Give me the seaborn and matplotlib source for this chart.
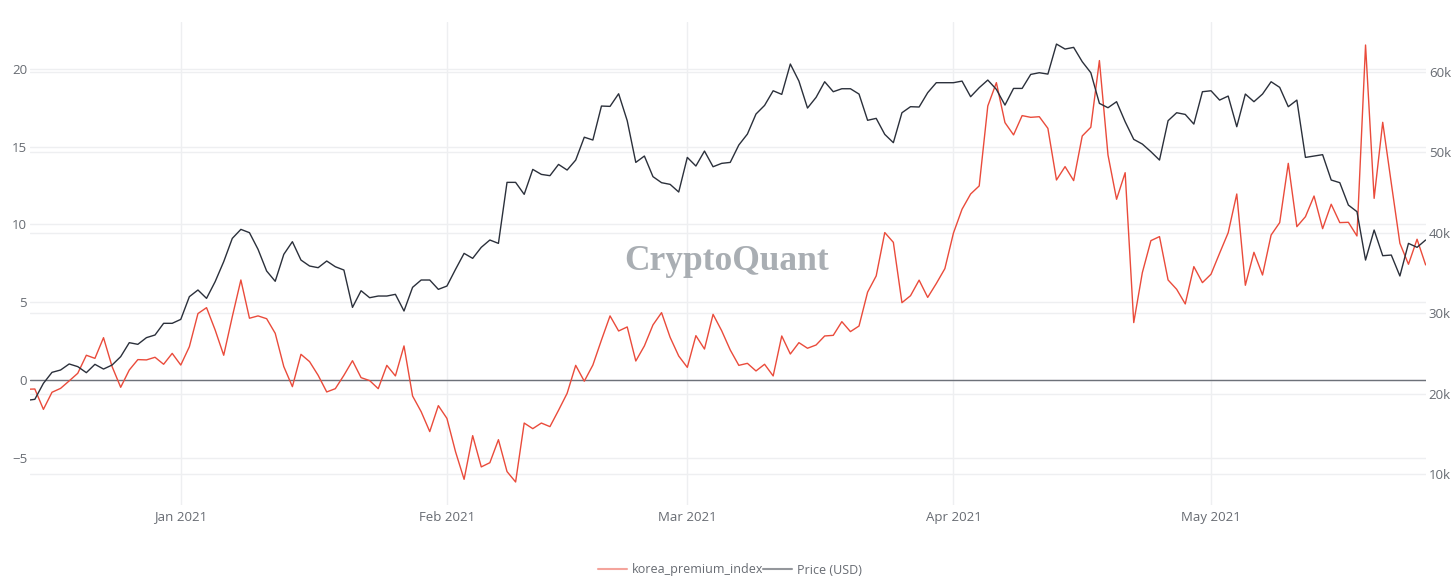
import numpy as np
import pandas as pd
import matplotlib
matplotlib.use("Agg")
import matplotlib.pyplot as plt
import matplotlib.dates as mdates
from matplotlib.ticker import FuncFormatter
from matplotlib.lines import Line2D
import seaborn as sns

start_date = "2020-12-14"

korea_premium_index = [
    # Dec 14 - Dec 31
    -0.6, -0.58, -1.89, -0.79, -0.54, -0.06, 0.43, 1.59, 1.39, 2.72, 0.86, -0.47, 0.64, 1.31, 1.29, 1.46, 1.01, 1.71,
    # Jan
    0.96, 2.14, 4.27, 4.65, 3.22, 1.59, 4.07, 6.43, 3.97, 4.12, 3.94, 3.0, 0.86, -0.43, 1.65, 1.18, 0.30, -0.77,
    -0.56, 0.30, 1.24, 0.15, -0.04, -0.56, 0.94, 0.26, 2.19, -1.03, -2.04, -3.32, -1.65,
    # Feb
    -2.47, -4.61, -6.39, -3.58, -5.59, -5.32, -3.84, -5.89, -6.56, -2.77, -3.13, -2.77, -3.0, -1.95, -0.86, 0.94,
    -0.08, 0.96, 2.57, 4.12, 3.15, 3.41, 1.22, 2.19, 3.54, 4.33, 2.74, 1.54,
    # Mar
    0.81, 2.85, 1.99, 4.22, 3.17, 1.93, 0.94, 1.07, 0.58, 1.01, 0.26, 2.83, 1.67, 2.40, 2.04, 2.25, 2.83, 2.87,
    3.75, 3.11, 3.47, 5.65, 6.69, 9.48, 8.85, 4.97, 5.42, 6.42, 5.31, 6.2, 7.16,
    # Apr
    9.45, 10.98, 11.96, 12.48, 17.62, 19.12, 16.55, 15.76, 17.0, 16.89, 16.93, 16.18, 12.86, 13.72, 12.82, 15.69,
    16.25, 20.54, 14.47, 11.62, 13.33, 3.69, 6.9, 8.96, 9.22, 6.43, 5.83, 4.89, 7.29, 6.26,
    # May 1 - May 26
    6.80, 8.15, 9.47, 11.96, 6.09, 8.21, 6.75, 9.32, 10.12, 13.93, 9.86, 10.50, 11.83, 9.73, 11.30, 10.12, 10.14,
    9.26, 21.54, 11.68, 16.57, 12.65, 8.79, 7.44, 9.05, 7.40,
]

price_usd = [
    # Dec 14 - Dec 31
    19200, 19338, 21325, 22690, 22980, 23730, 23400, 22650, 23685, 23100, 23600, 24640, 26375, 26170, 27000, 27330,
    28780, 28780,
    # Jan
    29270, 32090, 32920, 31880, 33950, 36440, 39330, 40450, 40040, 37970, 35280, 34000, 37350, 38920, 36640, 35900,
    35690, 36520, 35810, 35400, 30760, 32830, 31960, 32170, 32170, 32380, 30310, 33250, 34160, 34160, 33000,
    # Feb
    33410, 35480, 37470, 36850, 38220, 39130, 38710, 46290, 46290, 44800, 47900, 47280, 47120, 48520, 47820, 49060,
    51900, 51550, 55770, 55730, 57300, 53950, 48770, 49560, 47000, 46250, 46040, 45090,
    # Mar
    49390, 48320, 50180, 48230, 48650, 48770, 50930, 52290, 54780, 55850, 57670, 57220, 60990, 58870, 55520, 56850,
    58790, 57550, 57920, 57920, 57260, 54000, 54240, 52250, 51220, 54940, 55690, 55650, 57430, 58670, 58670,
    # Apr
    58670, 58870, 56930, 58050, 59000, 57840, 55890, 57960, 57960, 59700, 59910, 59740, 63470, 62850, 63060, 61280,
    59910, 56100, 55560, 56310, 53820, 51630, 51050, 50100, 49060, 53950, 54940, 54730, 53530, 57550,
    # May 1 - May 26
    57670, 56510, 57010, 53200, 57260, 56310, 57260, 58790, 58090, 55690, 56510, 49390, 49560, 49730, 46580, 46250,
    43470, 42650, 36640, 40370, 37180, 37260, 34660, 38710, 38220, 39130,
]

left_ticks = [-5, 0, 5, 10, 15, 20]
right_ticks = [10000, 20000, 30000, 40000, 50000, 60000]
month_ticks = ["2021-01-01", "2021-02-01", "2021-03-01", "2021-04-01", "2021-05-01"]
series_names = ["korea_premium_index", "Price (USD)"]

dates = pd.date_range(start_date, periods=len(korea_premium_index), freq="D")
df = pd.DataFrame({"date": dates, "kpi": korea_premium_index, "price": price_usd})

RED = "#ea4b3b"
DARK = "#2b303b"
GRID = "#eeeff1"
TXT = "#676b72"

sns.set_theme(style="white")
plt.rcParams["font.family"] = ["Open Sans", "DejaVu Sans"]

W, H = 1456, 584
fig = plt.figure(figsize=(W / 100, H / 100), dpi=100)
x0, x1, y0, y1 = 30, 1426, 22, 505
ax = fig.add_axes([x0 / W, 1 - y1 / H, (x1 - x0) / W, (y1 - y0) / H])
ax2 = ax.twinx()

lo, hi = -8.04, 23.02
plo, phi = 6211, 66211
ax.set_ylim(lo, hi)
ax2.set_ylim(plo, phi)
xl = pd.Timestamp(start_date) + pd.Timedelta(hours=10.5)
xr = dates[-1] + pd.Timedelta(hours=1)
ax.set_xlim(xl, xr)

# grid lines (both axes) drawn on the base axes, under the data
for t in left_ticks:
    ax.axhline(t, color=GRID, lw=1, zorder=0)
for t in right_ticks:
    ax.axhline(lo + (t - plo) / (phi - plo) * (hi - lo), color=GRID, lw=1, zorder=0)
for m in month_ticks:
    ax.axvline(pd.Timestamp(m), color=GRID, lw=1, zorder=0)
ax.axhline(0, color="#6d7179", lw=1.0, zorder=1)

sns.lineplot(data=df, x="date", y="kpi", ax=ax, color=RED, lw=1.0, zorder=3)
sns.lineplot(data=df, x="date", y="price", ax=ax2, color=DARK, lw=1.0, zorder=3)
ax2.set_xlim(xl, xr)

for a in (ax, ax2):
    for s in a.spines.values():
        s.set_visible(False)
    a.set_xlabel("")
    a.set_ylabel("")
    a.grid(False)
    a.tick_params(length=0, colors=TXT, labelsize=9.5)

ax.set_yticks(left_ticks)
ax.set_yticklabels([("\u2212" + str(-t)) if t < 0 else str(t) for t in left_ticks])
ax.tick_params(axis="y", pad=2)
ax2.set_yticks(right_ticks)
ax2.yaxis.set_major_formatter(FuncFormatter(lambda v, p: f"{int(v/1000)}k"))
ax2.tick_params(axis="y", pad=2)
ax.set_xticks([pd.Timestamp(m) for m in month_ticks])
ax.xaxis.set_major_formatter(mdates.DateFormatter("%b %Y"))
ax.tick_params(axis="x", pad=4)

fig.text(727 / W, 1 - 261 / H, "CryptoQuant", ha="center", va="center",
         fontsize=25.5, family="Liberation Serif", weight="bold", color="#a9aeb3", zorder=0)

handles = [Line2D([], [], color=RED, lw=1.5, alpha=0.5), Line2D([], [], color=DARK, lw=1.5, alpha=0.5)]
fig.legend(handles, series_names, loc="center", bbox_to_anchor=(730 / W, 1 - 570 / H), ncol=2,
           frameon=False, fontsize=9, labelcolor=TXT, handlelength=2.3, handletextpad=0.4,
           columnspacing=0.0)

fig.savefig("out.png", dpi=100)
